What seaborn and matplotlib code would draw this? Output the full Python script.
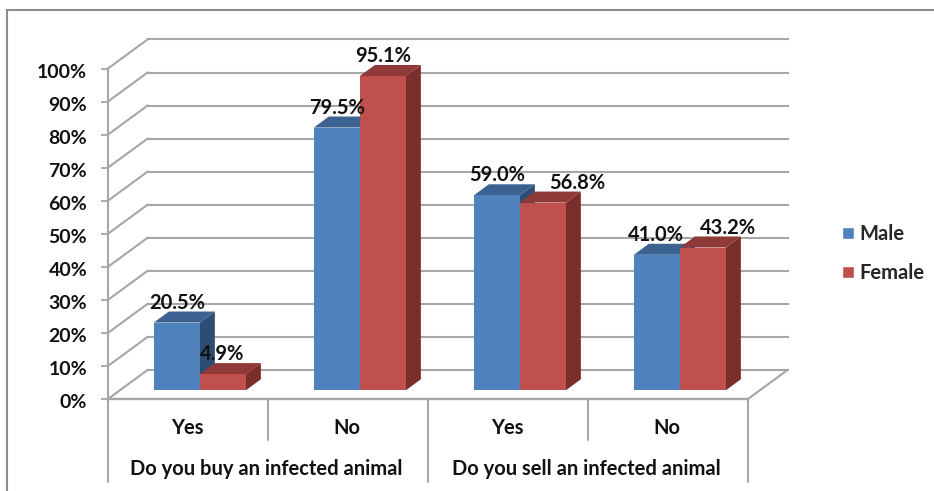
import matplotlib
matplotlib.use("Agg")
import matplotlib.pyplot as plt
import pandas as pd
import seaborn as sns
from matplotlib.lines import Line2D
from matplotlib.patches import Patch, Polygon, Rectangle
from matplotlib.transforms import Affine2D, ScaledTranslation

# Survey results, percent of respondents
groups = ["Do you buy an infected animal", "Do you sell an infected animal"]
answers = ["Yes", "No", "Yes", "No"]
male = [20.5, 79.5, 59.0, 41.0]
female = [4.9, 95.1, 56.8, 43.2]
percent_ticks = list(range(0, 101, 10))

# Faces of each column: front, top, side
blue_faces = ("#4F81BD", "#3B6291", "#2F4D73")
red_faces = ("#C0504D", "#8F3A38", "#7A2E2C")
grid_color = "#A6A6A6"
text_color = "#111111"
text_size = 14.5

# Sideways nudge of the value labels, in pixels
male_nudge = [0, 0, 0, -1]
female_nudge = [-1, 0, 34, 25]

sns.set_theme(style="white")
plt.rcParams["font.family"] = ["Lato", "DejaVu Sans"]
plt.rcParams["font.weight"] = "bold"

W, H = 934, 491
fig = plt.figure(figsize=(W / 100, H / 100), dpi=100)
fig.patch.set_facecolor("white")

# Front plane of the box: 108-748 px across, 399-68.5 px down
ax = fig.add_axes([108 / W, 1 - 399 / H, 640 / W, 330.5 / H])
ax.patch.set_visible(False)

rows = pd.DataFrame({
    "slot": list(range(4)) * 2,
    "share": male + female,
    "sex": ["Male"] * 4 + ["Female"] * 4,
})
sns.barplot(data=rows, x="slot", y="share", hue="sex", hue_order=["Male", "Female"],
            palette=[blue_faces[0], red_faces[0]], width=0.575, gap=0,
            saturation=1, linewidth=0, legend=False, ax=ax)
ax.set_xlim(-0.5, 3.5)
ax.set_ylim(0, 100)
ax.set_xlabel("")
ax.set_ylabel("")
ax.set_xticks([])
ax.set_yticks(percent_ticks)
ax.set_yticklabels([f"{t}%" for t in percent_ticks], fontsize=14, fontweight="bold", color=text_color)
ax.tick_params(axis="y", length=5, width=1.3, color=grid_color, pad=10, left=True)
drop = ScaledTranslation(0, -2 / 100, fig.dpi_scale_trans)
for tick_label in ax.get_yticklabels():
    tick_label.set_transform(tick_label.get_transform() + drop)
sns.despine(ax=ax, bottom=True, right=True, top=True)
ax.spines["left"].set_color(grid_color)
ax.spines["left"].set_linewidth(1.5)

# Depth of the box in data units
depth_x = 39.5 / 160
depth_y = 29 / 3.305


def drawn(x, y, depth):
    return x + depth * depth_x, y + depth * depth_y


def wall_line(xs, ys, lw=1.5, z=1):
    ax.add_line(Line2D(xs, ys, color=grid_color, lw=lw, clip_on=False, zorder=z,
                       solid_capstyle="projecting"))


# Gridlines on the side wall and the back wall
x_left, x_right = ax.get_xlim()
for t in percent_ticks:
    bx, by = drawn(x_left, t, 1)
    wall_line([x_left, bx], [t, by])
    ex, _ = drawn(x_right, t, 1)
    wall_line([bx, ex], [by, by])

# Floor edges
wall_line([x_left, x_right], [0, 0], lw=1.7)
ex, ey = drawn(x_right, 0, 1)
wall_line([x_right, ex], [0, ey])

# Columns stand inside the box, between these two depths
near, far = 0.30, 0.68
shift_x, shift_y = drawn(0, 0, near)
span_x = (far - near) * depth_x
span_y = (far - near) * depth_y
for patch in ax.patches:
    patch.set_transform(Affine2D().translate(shift_x, shift_y) + ax.transData)

bars = list(ax.patches)[:8]
value_bars = [(bars[i], male[i], blue_faces, male_nudge[i], 3) for i in range(4)]
value_bars += [(bars[4 + i], female[i], red_faces, female_nudge[i], 5) for i in range(4)]
for bar, value, faces, nudge, z in value_bars:
    x0 = bar.get_x() + shift_x
    x1 = x0 + bar.get_width()
    base = shift_y
    top = value + shift_y
    bar.set_zorder(z + 1)
    ax.add_patch(Polygon([(x1, base), (x1 + span_x, base + span_y),
                          (x1 + span_x, top + span_y), (x1, top)],
                         closed=True, fc=faces[2], ec="none", zorder=z, clip_on=False))
    ax.add_patch(Polygon([(x0, top), (x0 + span_x, top + span_y),
                          (x1 + span_x, top + span_y), (x1, top)],
                         closed=True, fc=faces[1], ec="none", zorder=z, clip_on=False))
    ax.annotate(f"{value:.1f}%", ((x0 + x1) / 2, top), xytext=(nudge * 0.72, 20 * 0.72),
                textcoords="offset points", ha="center", va="center", fontsize=text_size,
                fontweight="bold", color=text_color, zorder=10, annotation_clip=False)

# Two-level category axis below the floor
trans = ax.get_xaxis_transform()
tier_1 = -41 / 330.5
tier_2 = -82.5 / 330.5
for slot in range(5):
    tall = slot % 2 == 0
    ax.plot([slot - 0.5] * 2, [0, tier_2 if tall else tier_1], transform=trans,
            color=grid_color, lw=1.5, clip_on=False, zorder=1)
for slot, label in enumerate(answers):
    ax.text(slot - 0.005, -29.5 / 330.5, label, transform=trans, ha="center", va="center",
            fontsize=text_size, fontweight="bold", color=text_color)
for i, label in enumerate(groups):
    ax.text(0.5 + 2 * i - 0.01, -70 / 330.5, label, transform=trans, ha="center", va="center",
            fontsize=text_size, fontweight="bold", color=text_color)

ax.legend(handles=[Patch(fc=blue_faces[0], label="Male"), Patch(fc=red_faces[0], label="Female")],
          loc="center left", bbox_to_anchor=(842 / W, 1 - 253.5 / H), bbox_transform=fig.transFigure,
          frameon=False, fontsize=text_size, handlelength=0.58, handleheight=0.58,
          handletextpad=0.3, labelspacing=0.95, borderpad=0, borderaxespad=0)

# Picture frame
fig.add_artist(Rectangle((7 / W, -0.02), 2, 1 - 10 / H + 0.02, transform=fig.transFigure,
                         fc="none", ec="#8C8C8C", lw=1.5))

fig.savefig("out.png", dpi=100, facecolor="white")
